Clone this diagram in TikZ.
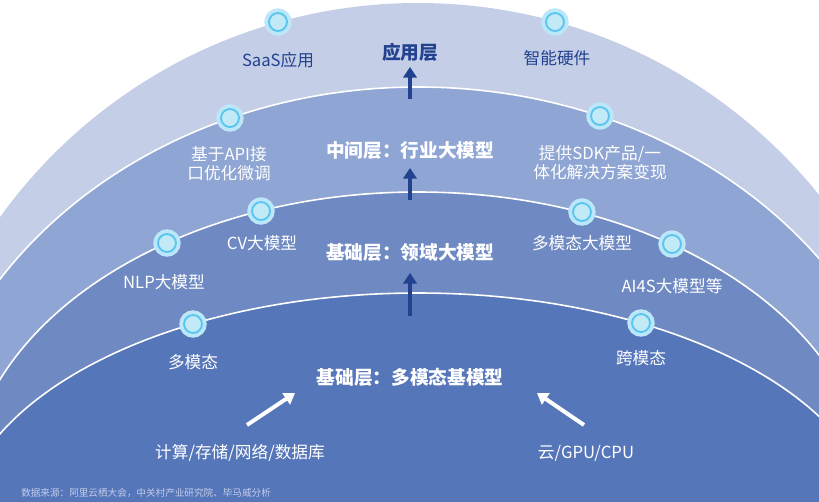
\documentclass[tikz,border=0pt]{standalone}
\usepackage{fontspec}
\setmainfont{Noto Sans CJK SC}
\usetikzlibrary{arrows.meta}
\usetikzlibrary{positioning}
\definecolor{bandA}{HTML}{C4CEE7}
\definecolor{bandB}{HTML}{8FA5D3}
\definecolor{bandC}{HTML}{6F89C3}
\definecolor{bandD}{HTML}{5676BA}
\definecolor{deepblue}{HTML}{22418F}
\definecolor{dotcore}{HTML}{C2E9F6}
\definecolor{dotring}{HTML}{3DBBEE}
\definecolor{srcgray}{HTML}{C3CDE9}
\tikzset{
    ring/.style={
           draw=white,
           line width=1.2pt,
           },
}
\tikzset{
    dot/.style={
           circle,
           inner sep=0pt,
           minimum size=13.5pt,
           fill=dotcore,
           draw=dotring!85, line width=1.4pt,
           preaction={draw=dotring!35, line width=7pt},
           },
}
\tikzset{
    tag/.style={
           inner sep=0pt,
           text=white,
           align=center,
           font=\fontsize{12.5}{14.5}\selectfont,
           },
    layer/.style={
           inner sep=0pt,
           text=white,
           font=\bfseries\fontsize{14}{16}\selectfont,
           },
    uparrow/.style={
           draw=deepblue,
           line width=3pt,
           -{Triangle[width=10pt,length=8pt]},
           },
    feedarrow/.style={
           draw=white,
           line width=3pt,
           -{Triangle[width=10pt,length=8pt]},
           },
}

\begin{document}
\begin{tikzpicture}[x=0.75pt,y=-0.75pt]
\useasboundingbox (0,0) rectangle (819,501);
\fill[white] (0,0) rectangle (819,501);
\clip (0,0) rectangle (819,501);
% the four layers
\fill[bandA] (418,518) circle [radius=515];
\filldraw[bandB,ring] (418,513) ellipse [x radius=500, y radius=426];
\filldraw[bandC,ring] (418,495) ellipse [x radius=452, y radius=303];
\filldraw[bandD,ring] (418,535) ellipse [x radius=460, y radius=242];
% dots on the rings
\node[dot](saasdot) at (278,22){};
\node[dot](hwdot) at (555,22){};
\node[dot](apidot) at (230,118){};
\node[dot](sdkdot) at (600,116){};
\node[dot](cvdot) at (261,211){};
\node[dot](nlpdot) at (167,243){};
\node[dot](mmdot) at (582,212){};
\node[dot](aidot) at (672,244){};
\node[dot](multidot) at (193,324){};
\node[dot](crossdot) at (641,323){};
% labels
\node[tag,text=deepblue](saas) at (278,60){SaaS应用};
\node[tag,text=deepblue](hw) at (557,58){智能硬件};
\node[tag](api) at (229,164){基于API接\\口优化微调};
\node[tag](sdk) at (600,163){提供SDK产品/一\\体化解决方案变现};
\node[tag](cv) at (262,243){CV大模型};
\node[tag](nlp) at (164,282){NLP大模型};
\node[tag](mm) at (582,243){多模态大模型};
\node[tag](ai) at (672,286){AI4S大模型等};
\node[tag](multi) at (193,362){多模态};
\node[tag](cross) at (641,358){跨模态};
\node[tag](compute) at (240,453){计算/存储/网络/数据库};
\node[tag](cloud) at (586,453){云/GPU/CPU};
% layer titles
\node[layer,text=deepblue](app) at (410,52){应用层};
\node[layer](mid) at (410,151){中间层：行业大模型};
\node[layer](domain) at (410,252){基础层：领域大模型};
\node[layer](base) at (410,377){基础层：多模态基模型};
\node[anchor=west,inner sep=0pt,text=srcgray,font=\fontsize{7.2}{9}\selectfont](src) at (21,493){数据来源：阿里云栖大会，中关村产业研究院、毕马威分析};
% arrows
\coordinate (up1s) at (410,99);
\coordinate (up1e) at (410,67);
\coordinate (up2s) at (410,200);
\coordinate (up2e) at (410,168);
\coordinate (up3s) at (410,316);
\coordinate (up3e) at (410,273);
\coordinate (inLs) at (247,425);
\coordinate (inLe) at (295,393);
\coordinate (inRs) at (584,425);
\coordinate (inRe) at (537,393);
\draw[uparrow] (up1s) -- (up1e);
\draw[uparrow] (up2s) -- (up2e);
\draw[uparrow] (up3s) -- (up3e);
\draw[feedarrow] (inLs) -- (inLe);
\draw[feedarrow] (inRs) -- (inRe);
\end{tikzpicture}
\end{document}
